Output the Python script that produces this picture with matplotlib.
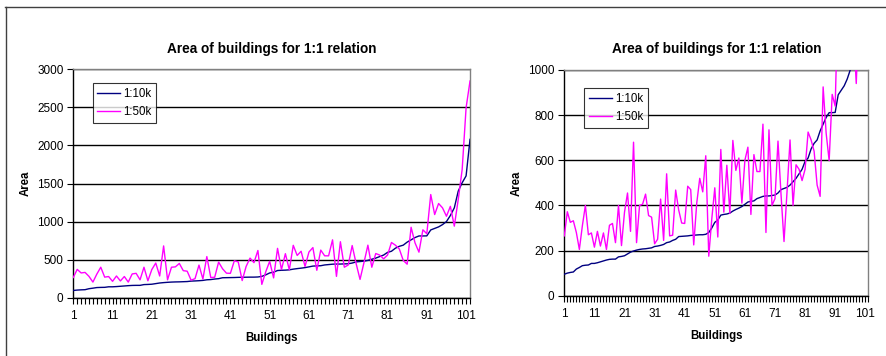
import matplotlib
matplotlib.use('Agg')
import matplotlib.pyplot as plt
from matplotlib.lines import Line2D
import numpy as np

plt.rcParams['font.family'] = ['Liberation Sans', 'DejaVu Sans']

# area per building, sorted by the 1:10k value
area_10k = [95, 100, 103, 105, 118, 125, 133, 135, 136, 143,
            143, 146, 150, 154, 158, 161, 162, 162, 172, 174,
            177, 185, 193, 198, 202, 205, 207, 208, 210, 212,
            218, 220, 223, 227, 235, 238, 245, 250, 262, 263,
            264, 265, 267, 268, 269, 270, 270, 272, 280, 300,
            325, 335, 357, 360, 362, 366, 375, 382, 388, 395,
            405, 415, 418, 420, 430, 435, 440, 442, 442, 444,
            446, 455, 470, 475, 480, 490, 505, 520, 540, 560,
            595, 610, 650, 675, 690, 730, 760, 790, 811, 811,
            812, 890, 910, 930, 960, 1000, 1080, 1180, 1400, 1510,
            1600, 2080]
area_50k = [265, 372, 325, 332, 280, 205, 310, 400, 270, 278,
            215, 285, 220, 278, 205, 312, 320, 235, 400, 222,
            370, 455, 285, 680, 235, 400, 405, 450, 355, 348,
            230, 250, 428, 245, 540, 265, 268, 468, 380, 322,
            320, 485, 470, 225, 410, 520, 460, 620, 175, 340,
            478, 260, 648, 370, 578, 365, 688, 555, 610, 410,
            600, 658, 360, 625, 550, 550, 760, 280, 735, 400,
            430, 685, 450, 240, 460, 690, 400, 580, 560, 510,
            560, 725, 690, 640, 490, 440, 925, 720, 598, 892,
            840, 1355, 1092, 1237, 1180, 1070, 1200, 940, 1290, 1684,
            2495, 2846]
series_names = ['1:10k', '1:50k']
series_colors = ['#000080', '#FF00FF']
title = 'Area of buildings for 1:1 relation'
xtick_labels = [str(v) for v in range(1, 102, 10)]


def draw_chart(ax, ymax, ystep, legend_pos):
    '''Excel style line chart of the two series.'''
    x = np.arange(1, len(area_10k) + 1)
    ax.plot(x, area_10k, color=series_colors[0], lw=1.0, zorder=3)
    ax.plot(x, area_50k, color=series_colors[1], lw=1.0, zorder=3)

    ax.set_xlim(1, len(area_10k))
    ax.set_ylim(0, ymax)
    ax.set_yticks(np.arange(0, ymax + 1, ystep))
    ax.set_xticks([int(s) for s in xtick_labels])
    ax.set_xticklabels(xtick_labels)
    ax.set_xticks(x, minor=True)
    ax.tick_params(axis='both', which='both', direction='out', length=4,
                   width=0.8, labelsize=8.5, colors='black')
    ax.tick_params(axis='x', which='major', pad=5)
    ax.tick_params(axis='y', pad=3)

    ax.yaxis.grid(True, color='black', lw=1.0, zorder=1)
    ax.set_axisbelow(True)
    for side in ['left', 'bottom']:
        ax.spines[side].set_color('black')
        ax.spines[side].set_linewidth(1.0)
    for side in ['top', 'right']:
        ax.spines[side].set_color('#808080')
        ax.spines[side].set_linewidth(1.0)

    ax.set_title(title, fontsize=9.8, fontweight='bold', pad=12)
    ax.set_xlabel('Buildings', fontsize=8.3, fontweight='bold', labelpad=7)
    ax.set_ylabel('Area', fontsize=8.3, fontweight='bold', labelpad=4)

    handles = [Line2D([], [], color=c, lw=1.0) for c in series_colors]
    leg = ax.legend(handles, series_names, loc='upper left',
                    bbox_to_anchor=legend_pos, fontsize=8.3, frameon=True,
                    fancybox=False, handlelength=2.0, handletextpad=0.25,
                    borderpad=0.4, labelspacing=0.55, borderaxespad=0)
    leg.get_frame().set_edgecolor('black')
    leg.get_frame().set_linewidth(0.8)


fig = plt.figure(figsize=(8.87, 3.56), dpi=100)
ax1 = fig.add_axes([0.0826, 0.1638, 0.4473, 0.6415])
ax2 = fig.add_axes([0.6362, 0.1694, 0.3427, 0.6340])

draw_chart(ax1, 3000, 500, (0.049, 0.94))
draw_chart(ax2, 1000, 200, (0.066, 0.919))

# chart area frame of the left chart (cut off at right and bottom)
fig.add_artist(Line2D([5 / 887, 1], [1 - 7 / 356, 1 - 7 / 356],
                      color='#404040', lw=1.0))
fig.add_artist(Line2D([6 / 887, 6 / 887], [0, 1 - 7 / 356],
                      color='#404040', lw=1.0))

fig.savefig('out.png', dpi=100)
